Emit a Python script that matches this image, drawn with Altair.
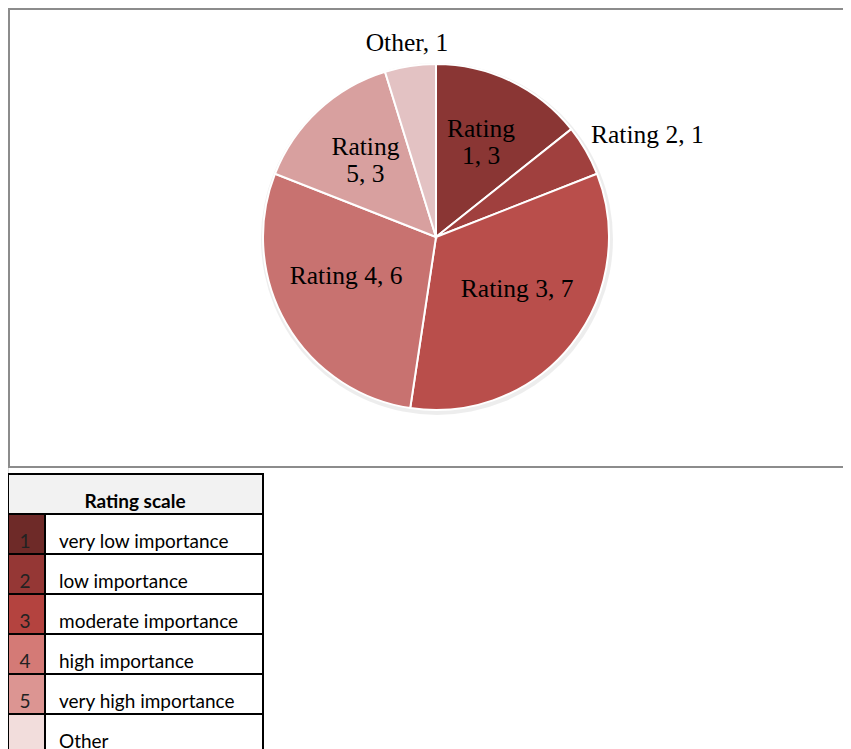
import altair as alt
import pandas as pd

# ---- data ----
categories = ["Rating 1", "Rating 2", "Rating 3", "Rating 4", "Rating 5", "Other"]
counts = [3, 1, 7, 6, 3, 1]
pie_colors = ["#8a3634", "#a0403e", "#b94e4b", "#c87270", "#d8a09f", "#e3c2c3"]

legend_title = "Rating scale"
scale_codes = ["1", "2", "3", "4", "5", ""]
scale_descriptions = ["very low importance", "low importance", "moderate importance",
                      "high importance", "very high importance", "Other"]
scale_colors = ["#6e2a28", "#953735", "#b4433f", "#d47a76", "#dc9592", "#f2dddc"]

# ---- tables built from the arrays ----
pie_df = pd.DataFrame({"category": categories, "count": counts, "order": list(range(len(categories)))})
legend_df = pd.DataFrame({
    "code": scale_codes,
    "description": scale_descriptions,
    "row": list(range(len(scale_codes))),
})
header_df = pd.DataFrame({"title": [legend_title], "row": [-1]})
one = pd.DataFrame({"a": [0]})

W, H = 835, 741
CX, CY, R = 428, 229, 173
serif = "Liberation Serif"
sans = "Lato"
LBL = 25.5
TBL = 19

color_scale = alt.Scale(domain=categories, range=pie_colors)

# outer chart-area frame
frame = alt.Chart(one).mark_rect(fillOpacity=0, stroke="#8c8c8c", strokeWidth=2).encode(
    x=alt.value(1), x2=alt.value(870), y=alt.value(1), y2=alt.value(459)
)

# soft shadow under the pie
shadow = alt.Chart(one).mark_arc(theta=0, theta2=6.2832, radius=R + 3, color="#000000", opacity=0.07).encode(
    x=alt.value(CX + 1), y=alt.value(CY + 2)
)

pie = alt.Chart(pie_df).mark_arc(radius=R, stroke="white", strokeWidth=2).encode(
    theta=alt.Theta("count:Q", stack=True),
    order=alt.Order("order:Q"),
    color=alt.Color("category:N", scale=color_scale, legend=None),
    x=alt.value(CX), y=alt.value(CY),
)

label_base = alt.Chart(pie_df).transform_joinaggregate(
    total="sum(count)"
).transform_window(
    cum="sum(count)", sort=[alt.SortField("order")], frame=[None, 0]
).transform_calculate(
    mid="(datum.cum - datum.count / 2) / datum.total * 2 * PI",
    label="datum.count > 1 && datum.count <= 3 ? replace(datum.category, ' ', '\\n') + ', ' + datum.count : datum.category + ', ' + datum.count",
)

def polar(layer):
    return layer.encode(
        theta=alt.Theta("mid:Q", scale=None),
        text="label:N", x=alt.value(CX), y=alt.value(CY),
    )

inside_wide = polar(label_base.transform_filter("datum.count > 3").mark_text(
    font=serif, fontSize=LBL, color="#000000", align="center", baseline="middle", dy=-13
)).encode(radius=alt.value(0.6 * R))

inside_wrapped = polar(label_base.transform_filter("datum.count > 1 && datum.count <= 3").mark_text(
    font=serif, fontSize=LBL, color="#000000", lineBreak="\n", lineHeight=27,
    align="center", baseline="middle", dy=-14
)).encode(radius=alt.value(0.6 * R))

outside_side = polar(label_base.transform_filter("datum.count <= 1 && sin(datum.mid) > 0.5").mark_text(
    font=serif, fontSize=LBL, color="#000000", align="left", baseline="middle", dy=-13
)).encode(radius=alt.value(R + 6))

outside_top = polar(label_base.transform_filter("datum.count <= 1 && abs(sin(datum.mid)) <= 0.5").mark_text(
    font=serif, fontSize=LBL, color="#000000", align="center", baseline="middle", dy=-1
)).encode(radius=alt.value(R + 22))

# ---- legend table ----
row_scale = alt.Scale(domain=[-1, len(scale_codes)], range=[466, 466 + 40 * (len(scale_codes) + 1)])

header_rect = alt.Chart(header_df).transform_calculate(bottom="datum.row + 1").mark_rect(
    fill="#f2f2f2", stroke="#000000", strokeWidth=2
).encode(
    x=alt.value(0), x2=alt.value(255),
    y=alt.Y("row:Q", scale=row_scale, axis=None), y2="bottom:Q",
)
header_text = alt.Chart(header_df).transform_calculate(ty="datum.row + 0.7").mark_text(
    font=sans, fontSize=TBL, fontWeight="bold", color="#000000", align="center", baseline="middle"
).encode(
    x=alt.value(127), y=alt.Y("ty:Q", scale=row_scale, axis=None), text="title:N"
)

swatch = alt.Chart(legend_df).transform_calculate(bottom="datum.row + 1").mark_rect(
    stroke="#000000", strokeWidth=2
).encode(
    x=alt.value(0), x2=alt.value(37),
    y=alt.Y("row:Q", scale=row_scale, axis=None), y2="bottom:Q",
    fill=alt.Fill("description:N", scale=alt.Scale(domain=scale_descriptions, range=scale_colors), legend=None),
)
cell = alt.Chart(legend_df).transform_calculate(bottom="datum.row + 1").mark_rect(
    fill="#ffffff", stroke="#000000", strokeWidth=2
).encode(
    x=alt.value(37), x2=alt.value(255),
    y=alt.Y("row:Q", scale=row_scale, axis=None), y2="bottom:Q",
)
code_text = alt.Chart(legend_df).transform_calculate(ty="datum.row + 0.7").mark_text(
    font=sans, fontSize=TBL, color="#222222", align="center", baseline="middle"
).encode(
    x=alt.value(17), y=alt.Y("ty:Q", scale=row_scale, axis=None), text="code:N"
)
desc_text = alt.Chart(legend_df).transform_calculate(ty="datum.row + 0.7").mark_text(
    font=sans, fontSize=TBL, color="#000000", align="left", baseline="middle"
).encode(
    x=alt.value(51), y=alt.Y("ty:Q", scale=row_scale, axis=None), text="description:N"
)

chart = alt.layer(
    frame, shadow, pie, inside_wide, inside_wrapped, outside_side, outside_top,
    header_rect, swatch, cell, header_text, code_text, desc_text,
).properties(
    width=W, height=H, padding=0, autosize=alt.AutoSizeParams(type="none")
).configure_view(strokeWidth=0).configure(background="#ffffff")

chart.save("out.html", embed_options={"renderer": "svg", "actions": False})
